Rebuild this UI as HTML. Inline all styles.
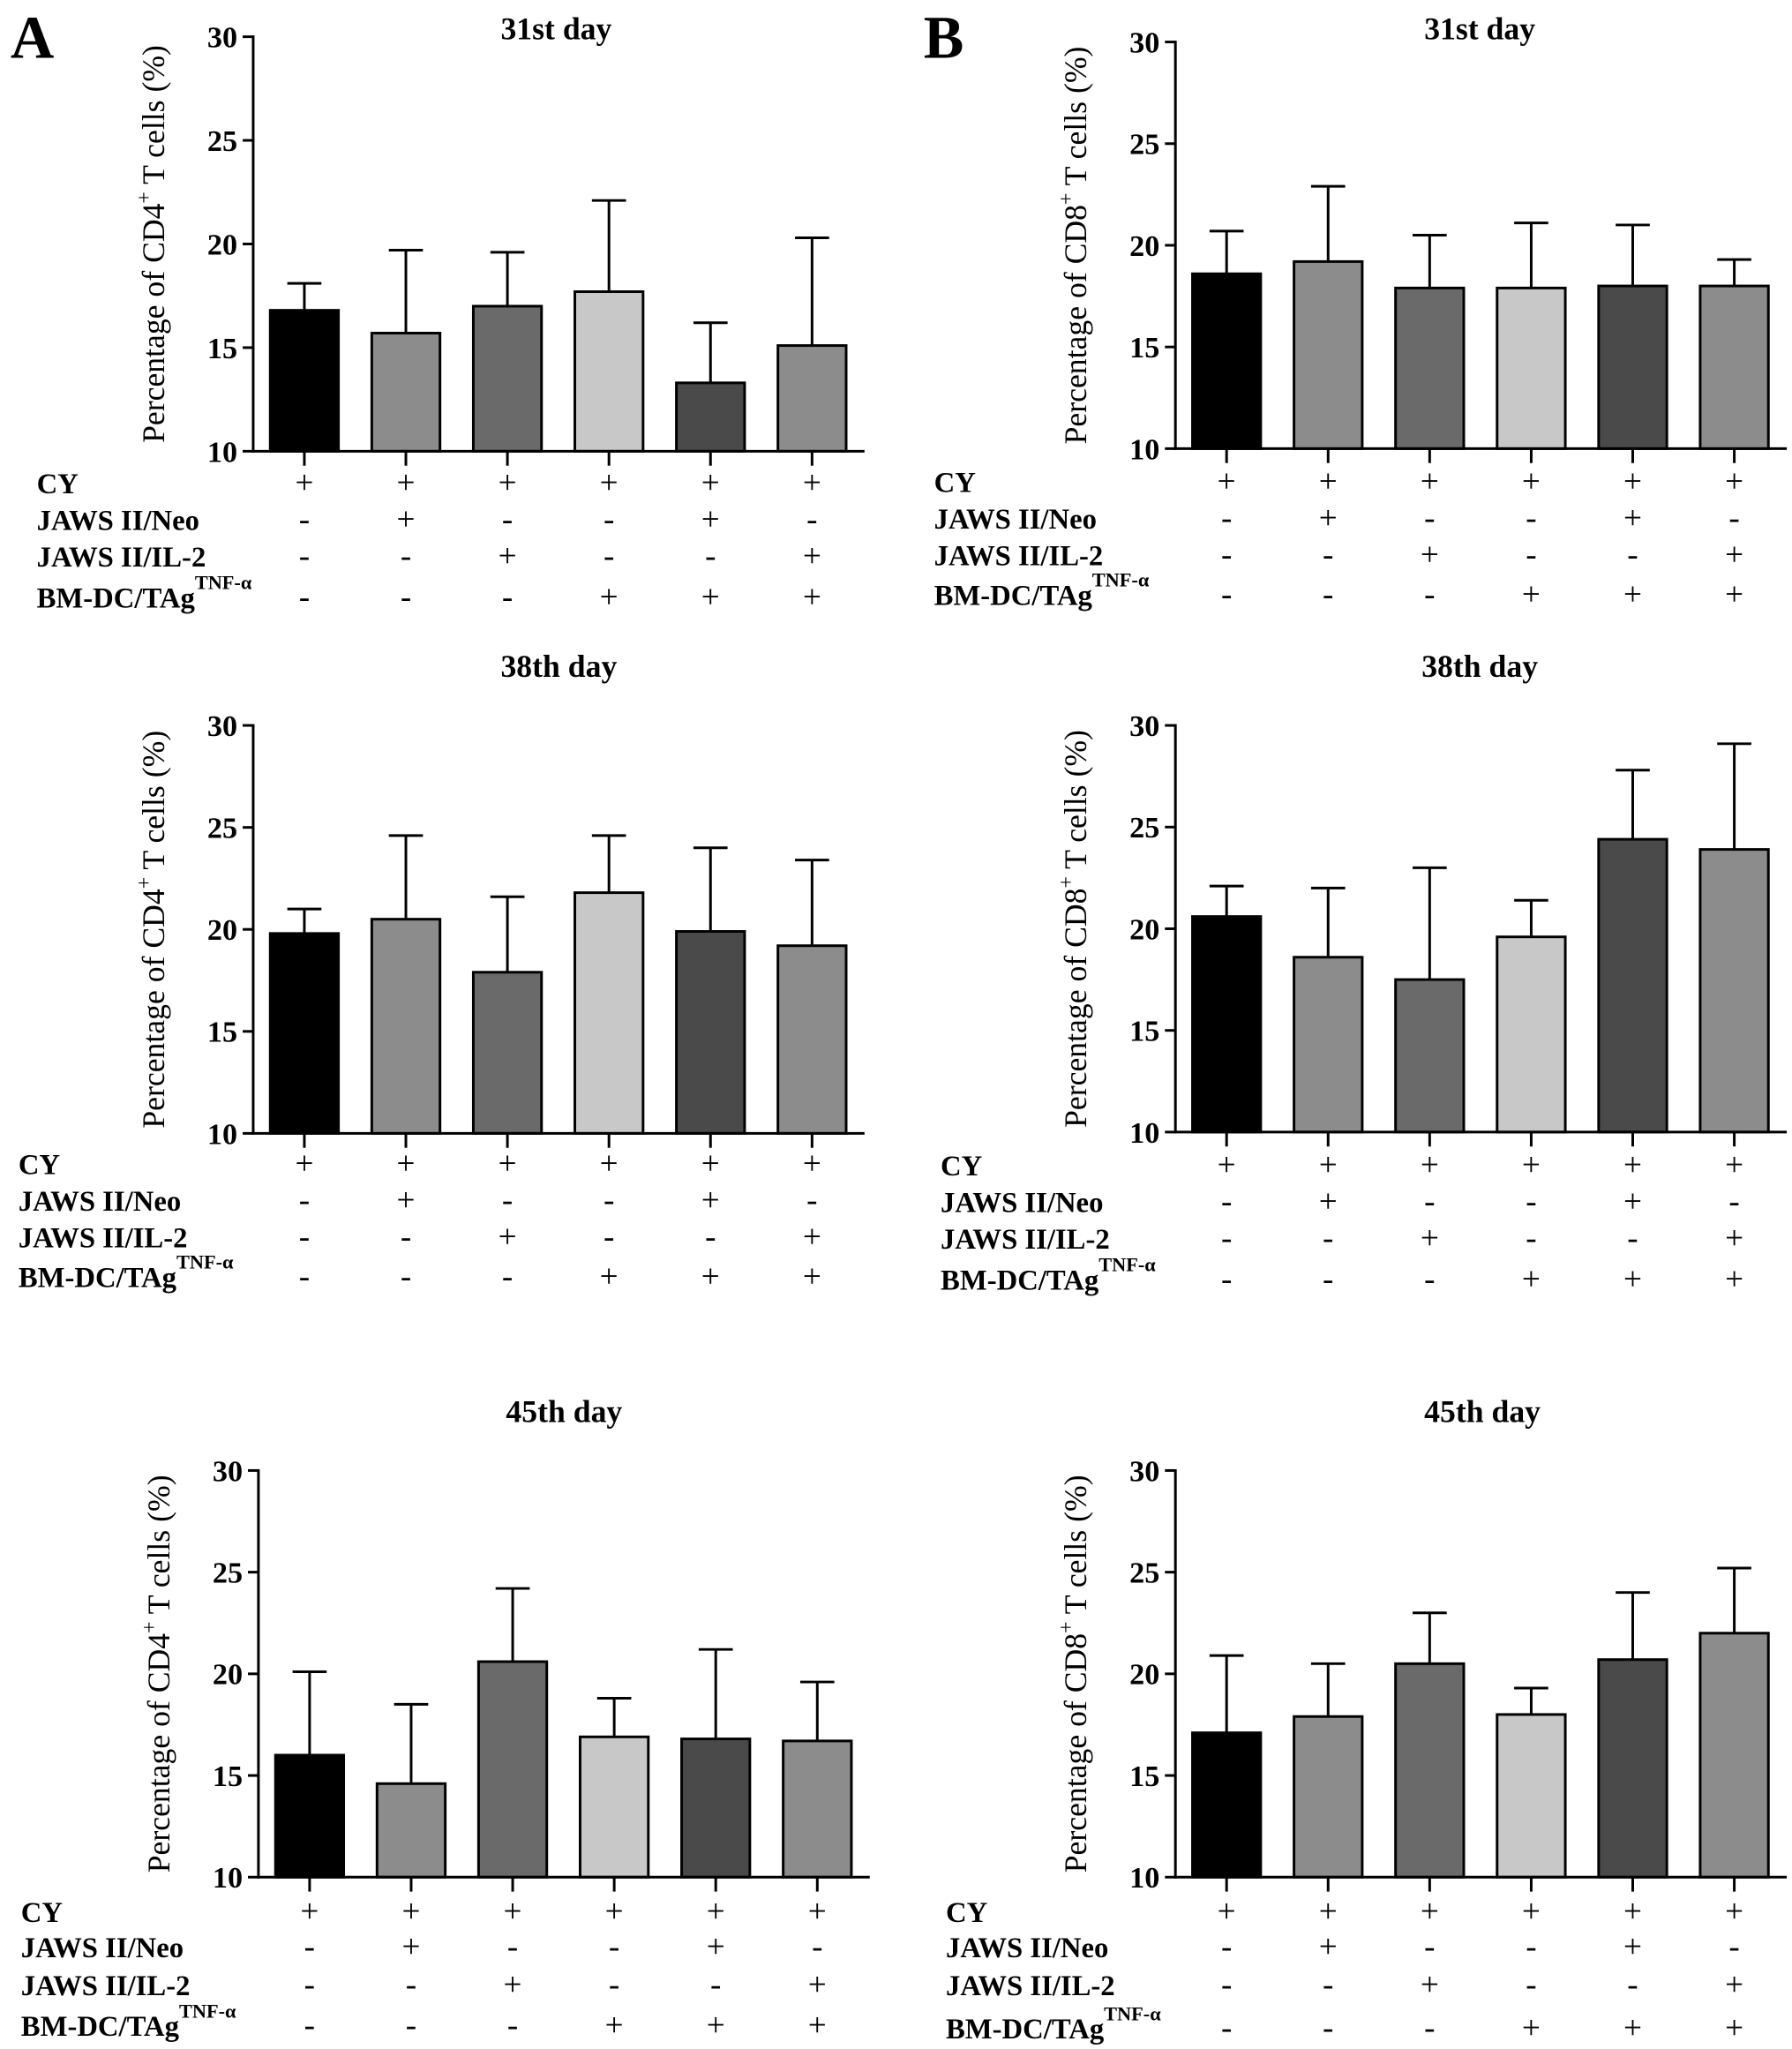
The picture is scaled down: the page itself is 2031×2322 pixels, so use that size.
<!DOCTYPE html>
<html><head><meta charset="utf-8"><style>
html,body{margin:0;padding:0;background:#fff}
svg{display:block}
text{font-family:"Liberation Serif",serif}
</style></head><body>
<svg id="fig" width="2031" height="2322" viewBox="0 0 1366 1562" preserveAspectRatio="none">
<text x="8" y="44" font-size="46" font-weight="bold">A</text>
<text x="704" y="44" font-size="46" font-weight="bold">B</text>
</svg>
<script>
const categories = ["G1","G2","G3","G4","G5","G6"];
const colors = ["#000000","#8c8c8c","#6a6a6a","#c8c8c8","#4a4a4a","#8c8c8c"];
const yTicks = [10,15,20,25,30];
const cy = ["+","+","+","+","+","+"];
const neo = ["-","+","-","-","+","-"];
const il2 = ["-","-","+","-","-","+"];
const bm = ["-","-","-","+","+","+"];
const a31 = [16.8,15.7,17.0,17.7,13.3,15.1];
const a31err = [18.1,19.7,19.6,22.1,16.2,20.3];
const a38 = [19.8,20.5,17.9,21.8,19.9,19.2];
const a38err = [21.0,24.6,21.6,24.6,24.0,23.4];
const a45 = [16.0,14.6,20.6,16.9,16.8,16.7];
const a45err = [20.1,18.5,24.2,18.8,21.2,19.6];
const b31 = [18.6,19.2,17.9,17.9,18.0,18.0];
const b31err = [20.7,22.9,20.5,21.1,21.0,19.3];
const b38 = [20.6,18.6,17.5,19.6,24.4,23.9];
const b38err = [22.1,22.0,23.0,21.4,27.8,29.1];
const b45 = [17.1,17.9,20.5,18.0,20.7,22.0];
const b45err = [20.9,20.5,23.0,19.3,24.0,25.2];

const NS="http://www.w3.org/2000/svg";
const svg=document.getElementById('fig');
function mk(tag,attrs,parent){const e=document.createElementNS(NS,tag);for(const k in attrs)e.setAttribute(k,attrs[k]);(parent||svg).appendChild(e);return e;}

function panel(p){
  const g=mk('g',{});
  
  
  const ymin=10,ymax=30;
  const y=v=>p.bottom-(v-ymin)/(ymax-ymin)*(p.bottom-p.top);
  const step=77.4;
  const x=i=>p.ax+39+i*step;
  const bw=52;
  const t=mk('text',{x:p.tx,y:p.ty,'font-size':24,'font-weight':'bold','text-anchor':'middle'},g);
  t.textContent=p.title;
  
  
  p.vals.forEach((v,i)=>{
    const cx=x(i);
    const el=mk('line',{x1:cx,x2:cx,y1:y(v),y2:y(p.err[i]),stroke:'#000','stroke-width':2},g);
    
    
    const cap=mk('line',{x1:cx-13,x2:cx+13,y1:y(p.err[i]),y2:y(p.err[i]),stroke:'#000','stroke-width':2},g);
    
    
    const r=mk('rect',{x:cx-bw/2,y:y(v),width:bw,height:y(ymin)-y(v),fill:colors[i],stroke:'#000','stroke-width':2},g);
    
    
    const tk=mk('line',{x1:cx,x2:cx,y1:p.bottom,y2:p.bottom+11,stroke:'#000','stroke-width':2},g);
    
    
  });
  const ya=mk('line',{x1:p.ax,x2:p.ax,y1:p.top-1,y2:p.bottom+1,stroke:'#000','stroke-width':2},g);
  
  
  const xa=mk('line',{x1:p.ax-1,x2:p.ax+466,y1:p.bottom,y2:p.bottom,stroke:'#000','stroke-width':2},g);
  
  
  yTicks.forEach(v=>{
    const tl=mk('line',{x1:p.ax-8,x2:p.ax,y1:y(v),y2:y(v),stroke:'#000','stroke-width':2},g);
    
    
    const tt=mk('text',{x:p.ax-12,y:y(v)+8,'font-size':23,'font-weight':'bold','text-anchor':'end'},g);
    tt.textContent=v;
    
    
  });
  const yl=mk('text',{x:0,y:0,'font-size':24,'text-anchor':'middle',transform:`translate(${p.ax-68},${(p.top+p.bottom)/2}) rotate(-90)`},g);
  yl.innerHTML='Percentage of '+p.cell+'<tspan dy="-10" font-size="16">+</tspan><tspan dy="10"> T cells (%)</tspan>';
  
  
  const rows=[["CY",cy],["JAWS II/Neo",neo],["JAWS II/IL-2",il2],["BM-DC/TAg",bm]];
  rows.forEach((r,ri)=>{
    const ry=p.rows[ri];
    const lb=mk('text',{x:p.lx,y:ry+8,'font-size':22,'font-weight':'bold'},g);
    if(ri===3){lb.innerHTML='BM-DC/TAg<tspan dy="-14" font-size="15">TNF-α</tspan>';}
    else lb.textContent=r[0];
    
    
    r[1].forEach((s,i)=>{
      const st=mk('text',{x:x(i),y:ry+8,'font-size':25,'text-anchor':'middle'},g);
      st.textContent=s;
      
      
    });
  });
}
panel({name:'chart-a-31st-day',title:'31st day',tx:424,ty:30,ax:193,top:28,bottom:344,vals:a31,err:a31err,cell:'CD4',lx:28,rows:[368,396,424,455]});
panel({name:'chart-a-38th-day',title:'38th day',tx:426,ty:516,ax:193,top:553,bottom:864,vals:a38,err:a38err,cell:'CD4',lx:14,rows:[887,915,943,973]});
panel({name:'chart-a-45th-day',title:'45th day',tx:430,ty:1084,ax:197,top:1121,bottom:1431,vals:a45,err:a45err,cell:'CD4',lx:16,rows:[1457,1484,1513,1544]});
panel({name:'chart-b-31st-day',title:'31st day',tx:1128,ty:30,ax:896,top:32,bottom:342,vals:b31,err:b31err,cell:'CD8',lx:712,rows:[367,395,423,453]});
panel({name:'chart-b-38th-day',title:'38th day',tx:1128,ty:516,ax:896,top:553,bottom:863,vals:b38,err:b38err,cell:'CD8',lx:717,rows:[888,916,944,975]});
panel({name:'chart-b-45th-day',title:'45th day',tx:1130,ty:1084,ax:896,top:1121,bottom:1431,vals:b45,err:b45err,cell:'CD8',lx:721,rows:[1457,1484,1513,1546]});
</script>
</body></html>
